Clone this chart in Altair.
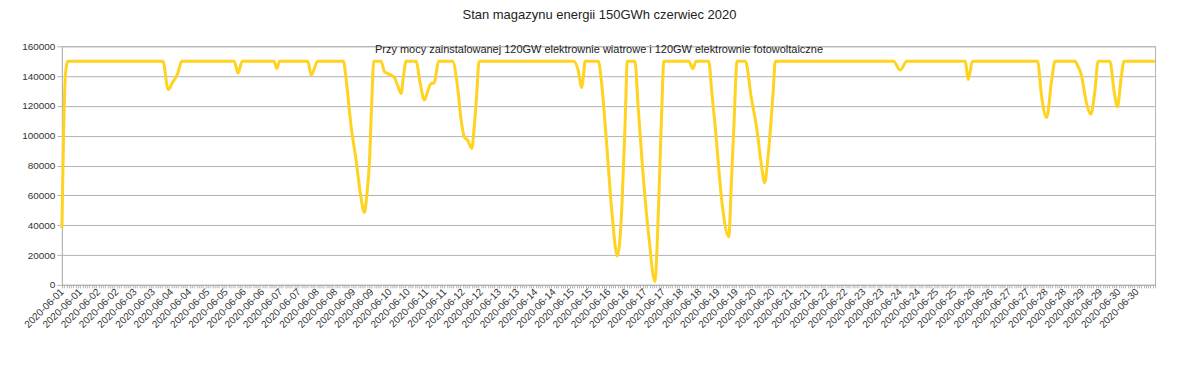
import json
import altair as alt
import pandas as pd

# Hours since 2020-06-01 00:00 and storage level (MWh)
hours = [0, 1, 2, 3, 4, 66.5, 70, 73, 76, 79,
         113.5, 116, 118.8, 139.6, 141.6, 143.3, 162, 164.2, 168.5,
         185.4, 187.5, 190.5, 193.7, 196.5, 199.2, 201, 202.5, 204, 205.4,
         210.2, 212.4, 215, 219, 221, 223.4, 225, 226.7,
         233.2, 236, 238.7, 241, 243.1, 245.3, 246.5, 248.1,
         257.3, 260.6, 263, 265, 267.2, 270, 271.5, 273.1, 274.8,
         337.3, 340, 342.4, 343.5, 344.6,
         353.3, 355.5, 358.1, 362.5, 365.8, 367.5, 369.1, 371, 372.4,
         377.4, 379.5, 382.2, 386.6, 390.6, 392, 393.2, 395, 396.5,
         412.9, 415.6, 417.7,
         426, 428, 430.5, 434.8, 439.2, 441, 442.5, 444.7,
         450.2, 454, 457.8, 460.5, 462.9, 464.5, 466.6, 468.5, 469.9,
         547.7, 552.1, 556.5, 594.9, 597, 599.7,
         642.6, 645.3, 648.6, 651.9, 654.1,
         667.2, 669, 671.2, 674.9, 677.7, 680.4, 682.5,
         690.2, 693, 695.2, 697.8, 699.6, 720]
values = [38000, 95000, 135000, 147000, 150000, 150000, 131000, 136000, 141000, 150000,
          150000, 142000, 150000, 150000, 145000, 150000, 150000, 140600, 150000,
          150000, 135000, 106000, 84000, 62000, 48500, 62000, 81500, 120000, 150000,
          150000, 143000, 141500, 139000, 134000, 128300, 140000, 150000,
          150000, 135000, 124000, 130000, 135000, 135500, 142000, 150000,
          150000, 132700, 110000, 99300, 97000, 91500, 105000, 126000, 150000,
          150000, 144000, 132300, 140000, 150000,
          150000, 135000, 103800, 45700, 19400, 30000, 59100, 110000, 150000,
          150000, 120000, 81500, 32300, 2200, 25000, 59100, 115000, 150000,
          150000, 145000, 150000,
          150000, 130000, 103800, 54700, 32300, 70000, 103800, 150000,
          150000, 126000, 103800, 82000, 68500, 80000, 103800, 130000, 150000,
          150000, 144000, 150000, 150000, 137700, 150000,
          150000, 126000, 112200, 137200, 150000,
          150000, 147000, 141700, 121600, 114500, 130500, 150000,
          150000, 130000, 119400, 140000, 150000, 150000]

# Category labels every 12 hours
tick_labels = []
for d in range(1, 31):
    tick_labels += ["2020-06-%02d" % d, "2020-06-%02d" % d]
y_ticks = [0, 20000, 40000, 60000, 80000, 100000, 120000, 140000, 160000]

title_text = "Stan magazynu energii 150GWh czerwiec 2020"
note_text = "Przy mocy zainstalowanej 120GW elektrownie wiatrowe i 120GW elektrownie fotowoltaiczne"

df = pd.DataFrame({"h": hours, "v": values})

tick_vals = [i * 1.5 for i in range(481)]
label_expr = ("datum.value % 12 == 0 ? " + json.dumps(tick_labels) +
              "[round(datum.value / 12)] : ''")

FONT = "Liberation Sans"
GRID = "#b3b3b3"

line = alt.Chart(df).mark_line(
    color="#ffd320", strokeWidth=3, interpolate="monotone"
).encode(
    x=alt.X("h:Q", scale=alt.Scale(domain=[0, 720], nice=False, zero=False),
            axis=alt.Axis(values=tick_vals, labelExpr=label_expr, labelAngle=-45,
                          labelAlign="right", labelBaseline="middle",
                          labelOverlap=False, labelPadding=2, tickSize=3,
                          grid=False, title=None, labelFontSize=10,
                          labelColor="#333333", tickColor=GRID, domainColor=GRID)),
    y=alt.Y("v:Q", scale=alt.Scale(domain=[0, 160000], nice=False),
            axis=alt.Axis(values=y_ticks, format="d", title=None, tickSize=5,
                          labelPadding=2, labelFontSize=10, labelColor="#333333",
                          gridColor=GRID, tickColor=GRID, domainColor=GRID)),
)

note = alt.Chart(alt.Data(values=[{"t": note_text}])).mark_text(
    font=FONT, fontSize=11, color="#222222", align="center", baseline="middle"
).encode(
    text="t:N", x=alt.value(538), y=alt.value(4)
)

chart = alt.layer(line, note).properties(
    width=1095, height=239,
    title=alt.TitleParams(title_text, font=FONT, fontSize=13, fontWeight="normal",
                          color="#222222", anchor="middle", offset=19, dx=-9),
    autosize=alt.AutoSizeParams(type="none"),
    padding={"left": 54, "top": 38, "right": 37, "bottom": 90},
).configure(font=FONT).configure_axis(labelFont=FONT).configure_view(stroke=GRID)

chart.save("out.html", embed_options={"renderer": "svg", "actions": False})
